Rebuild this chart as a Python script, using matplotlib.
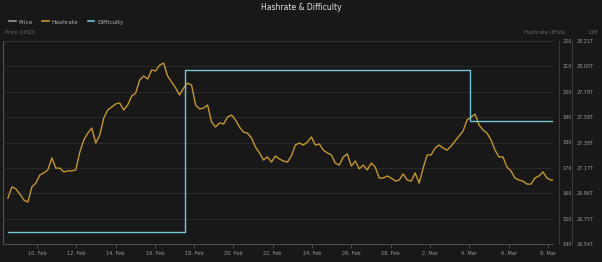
import numpy as np
import pandas as pd
import matplotlib
matplotlib.use("Agg")
import matplotlib.pyplot as plt
from matplotlib.lines import Line2D
from matplotlib.ticker import FuncFormatter

# hashrate (EH/s), evenly spaced samples from 8 Feb to 8 Mar 2022
hashrate = [
    158.1, 162.5, 161.7, 159.7, 157.3, 156.5, 162.5, 164.0, 167.2, 168.0,
    169.2, 173.9, 169.9, 169.9, 168.4, 168.8, 168.8, 169.2, 176.2, 181.0,
    183.7, 185.7, 179.8, 182.9, 189.6, 192.8, 194.0, 195.2, 195.6, 192.8,
    194.8, 198.3, 199.5, 204.6, 206.2, 205.0, 208.6, 208.2, 210.5, 211.3,
    206.2, 203.8, 201.5, 198.7, 201.5, 203.4, 202.6, 194.8, 193.2, 193.6,
    194.8, 188.1, 186.1, 187.7, 187.3, 190.0, 190.8, 188.9, 186.1, 184.1,
    183.7, 181.8, 178.2, 175.9, 173.1, 174.3, 172.3, 174.7, 173.5, 172.7,
    172.3, 174.7, 179.0, 179.8, 179.0, 180.2, 182.2, 179.0, 179.4, 177.0,
    175.9, 175.1, 171.9, 171.1, 174.3, 175.5, 170.7, 172.7, 169.6, 171.1,
    169.2, 171.9, 170.3, 166.0, 166.0, 166.8, 166.0, 164.8, 165.2, 167.6,
    165.2, 164.8, 168.0, 164.0, 169.9, 175.1, 175.1, 177.8, 179.0, 177.8,
    177.0, 178.6, 180.6, 182.6, 184.5, 188.9, 190.0, 191.2, 186.9, 184.9,
    183.7, 181.0, 177.0, 174.3, 174.3, 170.3, 168.8, 166.0, 165.2, 164.8,
    163.6, 163.6, 166.0, 166.8, 168.4, 166.0, 165.2, 165.2,
]
hr_start = pd.Timestamp("2022-02-08 12:30")
hr_end = pd.Timestamp("2022-03-08 08:40")

# difficulty (T) step series
diff_dates = pd.to_datetime(["2022-02-08 12:30", "2022-02-17 12:45",
                             "2022-03-04 01:00", "2022-03-08 08:40"])
diff_values = [26.64, 27.97, 27.55, 27.55]

x_ticks = pd.date_range("2022-02-10", "2022-03-08", freq="2D")
hr_ticks = [140, 150, 160, 170, 180, 190, 200, 210, 220]

BG = "#181818"
GRID = "#2b2b2b"
TXT = "#9a9a9a"
GOLD = "#c39630"
TEAL = "#74c6d8"

hr_dates = pd.date_range(hr_start, hr_end, periods=len(hashrate))

W, H = 602, 262
fig = plt.figure(figsize=(W / 100, H / 100), dpi=100, facecolor=BG)
ax = fig.add_axes([3 / W, (H - 244) / H, (553 - 3) / W, (244 - 41) / H])
ax.set_facecolor(BG)
ax_h = ax.twinx()
ax_d = ax.twinx()

# price axis (no visible series)
ax.set_yticks([])
for s in ["top", "right"]:
    ax.spines[s].set_visible(False)
ax.spines["left"].set_color("#555555")
ax.spines["left"].set_linewidth(0.8)
ax.spines["bottom"].set_color("#4a4a4a")
ax.spines["bottom"].set_linewidth(0.8)

ax_h.plot(hr_dates, hashrate, color=GOLD, lw=1.0, zorder=3)
ax_h.set_ylim(140, 220)
ax_h.set_yticks(hr_ticks)
ax_h.grid(axis="y", color=GRID, lw=0.7)
ax_h.tick_params(axis="y", length=0, pad=3, labelsize=3.5, labelcolor=TXT)
ax_h.spines["right"].set_position(("outward", 4))
ax_h.spines["right"].set_color("#3a3a3a")
for s in ["top", "left", "bottom"]:
    ax_h.spines[s].set_visible(False)

ax_d.step(diff_dates, diff_values, where="post", color=TEAL, lw=1.0, zorder=4)
d_lo, d_hi = 26.54, 28.21
ax_d.set_ylim(d_lo, d_hi)
ax_d.set_yticks(np.linspace(d_lo, d_hi, 9))
ax_d.yaxis.set_major_formatter(FuncFormatter(lambda v, p: f"{v:.2f}T"))
ax_d.tick_params(axis="y", length=0, pad=3, labelsize=3.5, labelcolor=TXT)
ax_d.spines["right"].set_position(("outward", 14))
ax_d.spines["right"].set_color("#3a3a3a")
for s in ["top", "left", "bottom"]:
    ax_d.spines[s].set_visible(False)

ax.set_xlim(pd.Timestamp("2022-02-08 06:30"), pd.Timestamp("2022-03-08 06:20"))
ax.set_xticks(x_ticks)
ax.set_xticklabels([f"{d.day}. {d.strftime('%b')}" for d in x_ticks])
ax.tick_params(axis="x", length=3, width=0.6, color="#555555", pad=2,
               labelsize=3.6, labelcolor=TXT)
ax_h.axhline(220, color="#333333", lw=0.8)

fig.text(0.5, 1 - 7 / H, "Hashrate & Difficulty", ha="center", va="center",
         color="#e6e6e6", fontsize=5.5)
fig.text(5 / W, 1 - 33 / H, "Price (USD)", ha="left", va="center",
         color="#6a6a6a", fontsize=3.8)
fig.text(545 / W, 1 - 33 / H, "Hashrate (EH/s)", ha="center", va="center",
         color="#6a6a6a", fontsize=3.8)
fig.text(593 / W, 1 - 33 / H, "Diff", ha="center", va="center",
         color="#6a6a6a", fontsize=3.8)

handles = [Line2D([], [], color="#9a9a9a", lw=1.2),
           Line2D([], [], color=GOLD, lw=1.2),
           Line2D([], [], color=TEAL, lw=1.2)]
fig.legend(handles, ["Price", "Hashrate", "Difficulty"], loc="center left",
           bbox_to_anchor=(4 / W, 1 - 22 / H), ncol=3, frameon=False,
           fontsize=4.2, handlelength=1.1, handletextpad=0.5,
           columnspacing=1.6, labelcolor="#b0b0b0")

fig.savefig("out.png", dpi=100, facecolor=BG)
